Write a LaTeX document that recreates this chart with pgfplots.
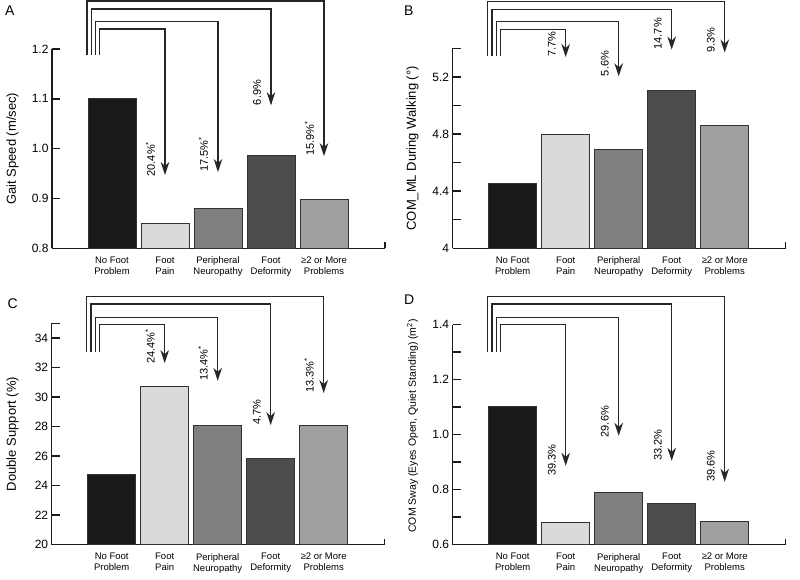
\documentclass[border=0pt]{standalone}
\usepackage{pgfplots}
\pgfplotsset{compat=1.18}
\usepackage{fontspec}
\setmainfont{Liberation Sans}
\usetikzlibrary{arrows.meta}
\definecolor{cA}{HTML}{1A1A1A}
\definecolor{cB}{HTML}{D9D9D9}
\definecolor{cC}{HTML}{7F7F7F}
\definecolor{cD}{HTML}{4D4D4D}
\definecolor{cE}{HTML}{9F9F9F}
\definecolor{edge}{HTML}{333333}
\definecolor{brc}{HTML}{262626}
\definecolor{axc}{HTML}{1A1A1A}
\tikzset{
  brk/.style={line width=1.35pt, draw=brc, line join=miter, -{Stealth[length=13pt, width=8.5pt, inset=4pt]}, fill=none},
  pct/.style={rotate=90, anchor=base west, inner sep=0pt, font=\fontsize{11}{13}\selectfont},
  endtick/.style={line width=1.5pt, draw=axc},
}
\pgfplotsset{
  panel/.style={
    scale only axis, width=333pt,
    xmin=-1.132, xmax=5.151,
    anchor=south west,
    axis x line=bottom, axis y line=left,
    axis line style={-, line width=1.5pt, draw=axc},
    xtick={0,1,2,3,4},
    xticklabels={{No Foot\\Problem},{Foot\\Pain},{Peripheral\\Neuropathy},{Foot\\Deformity},{≥2 or More\\Problems}},
    xticklabel style={align=center, font=\fontsize{9.5}{11}\selectfont, yshift=-5pt},
    xtick style={draw=none},
    tick align=inside,
    tick style={line width=1.5pt, draw=axc},
    minor tick style={line width=1.5pt, draw=axc},
    major tick length=8pt, minor tick length=8pt,
    yticklabel style={font=\fontsize{12}{14}\selectfont},
    /pgf/number format/assume math mode=true,
    clip mode=individual,
    every axis y label/.style={rotate=90, anchor=center, font=\fontsize{13}{15}\selectfont},
  },
  bars/.style={ybar, bar width=48pt, bar shift=0pt, draw=edge, line width=0.8pt},
}
\begin{document}
\begin{tikzpicture}
\path[use as bounding box] (0pt,0pt) rectangle (800pt,-579pt);

% ---------------- Panel A
\begin{axis}[panel, at={(52pt,-248.3pt)}, height=199.3pt,
  ymin=0.8, ymax=1.2, ytick={0.8,0.9,1.0,1.1,1.2},
  yticklabel style={/pgf/number format/.cd, fixed, fixed zerofill, precision=1},
  ylabel={Gait Speed (m/sec)},
  every axis y label/.append style={at={(axis description cs:-0.1186,0.5)}}]
\addplot[bars, fill=cA] coordinates {(0,1.10)};
\addplot[bars, fill=cB] coordinates {(1,0.849)};
\addplot[bars, fill=cC] coordinates {(2,0.880)};
\addplot[bars, fill=cD] coordinates {(3,0.987)};
\addplot[bars, fill=cE] coordinates {(4,0.899)};
\draw[endtick] (rel axis cs:1,0) -- (rel axis cs:1,0.03);
\draw[brk] (axis cs:-0.23,1.187) |- (axis cs:1,1.240) -- (axis cs:1,0.947);
\draw[brk] (axis cs:-0.31,1.187) |- (axis cs:2,1.255) -- (axis cs:2,0.953);
\draw[brk] (axis cs:-0.39,1.187) |- (axis cs:3,1.280) -- (axis cs:3,1.087);
\draw[brk] (axis cs:-0.47,1.187) |- (axis cs:4,1.296) -- (axis cs:4,0.985);
\node[pct] at (axis cs:0.811,0.944) {20.4\%\textsuperscript{*}};
\node[pct] at (axis cs:1.811,0.953) {17.5\%\textsuperscript{*}};
\node[pct] at (axis cs:2.811,1.087) {6.9\%};
\node[pct] at (axis cs:3.811,0.985) {15.9\%\textsuperscript{*}};
\end{axis}

% ---------------- Panel B
\begin{axis}[panel, at={(452.7pt,-248.3pt)}, height=200pt,
  ymin=4, ymax=5.4, ytick={4,4.4,4.8,5.2}, minor ytick={4.2,4.6,5.0,5.4},
  ylabel={COM\_ML During Walking (°)},
  every axis y label/.append style={at={(axis description cs:-0.1207,0.5)}}]
\addplot[bars, fill=cA] coordinates {(0,4.457)};
\addplot[bars, fill=cB] coordinates {(1,4.796)};
\addplot[bars, fill=cC] coordinates {(2,4.690)};
\addplot[bars, fill=cD] coordinates {(3,5.108)};
\addplot[bars, fill=cE] coordinates {(4,4.861)};
\draw[endtick] (rel axis cs:1,0) -- (rel axis cs:1,0.03);
\draw[brk] (axis cs:-0.23,5.346) |- (axis cs:1,5.533) -- (axis cs:1,5.339);
\draw[brk] (axis cs:-0.31,5.346) |- (axis cs:2,5.589) -- (axis cs:2,5.204);
\draw[brk] (axis cs:-0.39,5.346) |- (axis cs:3,5.671) -- (axis cs:3,5.391);
\draw[brk] (axis cs:-0.47,5.346) |- (axis cs:4,5.729) -- (axis cs:4,5.370);
\node[pct] at (axis cs:0.811,5.339) {7.7\%};
\node[pct] at (axis cs:1.811,5.204) {5.6\%};
\node[pct] at (axis cs:2.811,5.391) {14.7\%};
\node[pct] at (axis cs:3.811,5.370) {9.3\%};
\end{axis}

% ---------------- Panel C
\begin{axis}[panel, at={(51.7pt,-544.7pt)}, height=221.4pt,
  ymin=20, ymax=35, ytick={20,22,24,26,28,30,32,34}, minor ytick={35},
  ylabel={Double Support (\%)},
  every axis y label/.append style={at={(axis description cs:-0.1177,0.5)}}]
\addplot[bars, fill=cA] coordinates {(0,24.79)};
\addplot[bars, fill=cB] coordinates {(1,30.75)};
\addplot[bars, fill=cC] coordinates {(2,28.06)};
\addplot[bars, fill=cD] coordinates {(3,25.82)};
\addplot[bars, fill=cE] coordinates {(4,28.06)};
\draw[endtick] (rel axis cs:1,0) -- (rel axis cs:1,0.027);
\draw[brk] (axis cs:-0.23,33.03) |- (axis cs:1,34.90) -- (axis cs:1,32.30);
\draw[brk] (axis cs:-0.31,33.03) |- (axis cs:2,35.40) -- (axis cs:2,31.10);
\draw[brk] (axis cs:-0.39,33.03) |- (axis cs:3,36.30) -- (axis cs:3,28.10);
\draw[brk] (axis cs:-0.47,33.03) |- (axis cs:4,36.82) -- (axis cs:4,30.27);
\node[pct] at (axis cs:0.811,32.25) {24.4\%\textsuperscript{*}};
\node[pct] at (axis cs:1.811,31.10) {13.4\%\textsuperscript{*}};
\node[pct] at (axis cs:2.811,28.10) {4.7\%};
\node[pct] at (axis cs:3.811,30.27) {13.3\%\textsuperscript{*}};
\end{axis}

% ---------------- Panel D
\begin{axis}[panel, at={(452.7pt,-544.7pt)}, height=220pt,
  ymin=0.6, ymax=1.4, ytick={0.6,0.8,1.0,1.2,1.4}, minor ytick={0.7,0.9,1.1,1.3},
  yticklabel style={/pgf/number format/.cd, fixed, fixed zerofill, precision=1},
  ylabel={COM Sway (Eyes Open, Quiet Standing) (m\textsuperscript{2})},
  every axis y label/.append style={at={(axis description cs:-0.1207,0.54)}, font=\fontsize{10.5}{12}\selectfont}]
\addplot[bars, fill=cA] coordinates {(0,1.103)};
\addplot[bars, fill=cB] coordinates {(1,0.681)};
\addplot[bars, fill=cC] coordinates {(2,0.790)};
\addplot[bars, fill=cD] coordinates {(3,0.752)};
\addplot[bars, fill=cE] coordinates {(4,0.684)};
\draw[endtick] (rel axis cs:1,0) -- (rel axis cs:1,0.027);
\draw[brk] (axis cs:-0.23,1.300) |- (axis cs:1,1.400) -- (axis cs:1,0.887);
\draw[brk] (axis cs:-0.31,1.300) |- (axis cs:2,1.427) -- (axis cs:2,0.996);
\draw[brk] (axis cs:-0.39,1.300) |- (axis cs:3,1.475) -- (axis cs:3,0.905);
\draw[brk] (axis cs:-0.47,1.300) |- (axis cs:4,1.503) -- (axis cs:4,0.829);
\node[pct] at (axis cs:0.811,0.851) {39.3\%};
\node[pct] at (axis cs:1.811,0.990) {29.6\%};
\node[pct] at (axis cs:2.811,0.905) {33.2\%};
\node[pct] at (axis cs:3.811,0.829) {39.6\%};
\end{axis}

% panel letters
\node[anchor=base west, inner sep=0pt, font=\fontsize{14}{16}\selectfont] at (5pt,-15pt) {A};
\node[anchor=base west, inner sep=0pt, font=\fontsize{14}{16}\selectfont] at (404pt,-15pt) {B};
\node[anchor=base west, inner sep=0pt, font=\fontsize{14}{16}\selectfont] at (7.5pt,-308.5pt) {C};
\node[anchor=base west, inner sep=0pt, font=\fontsize{14}{16}\selectfont] at (404pt,-304pt) {D};
\end{tikzpicture}
\end{document}
